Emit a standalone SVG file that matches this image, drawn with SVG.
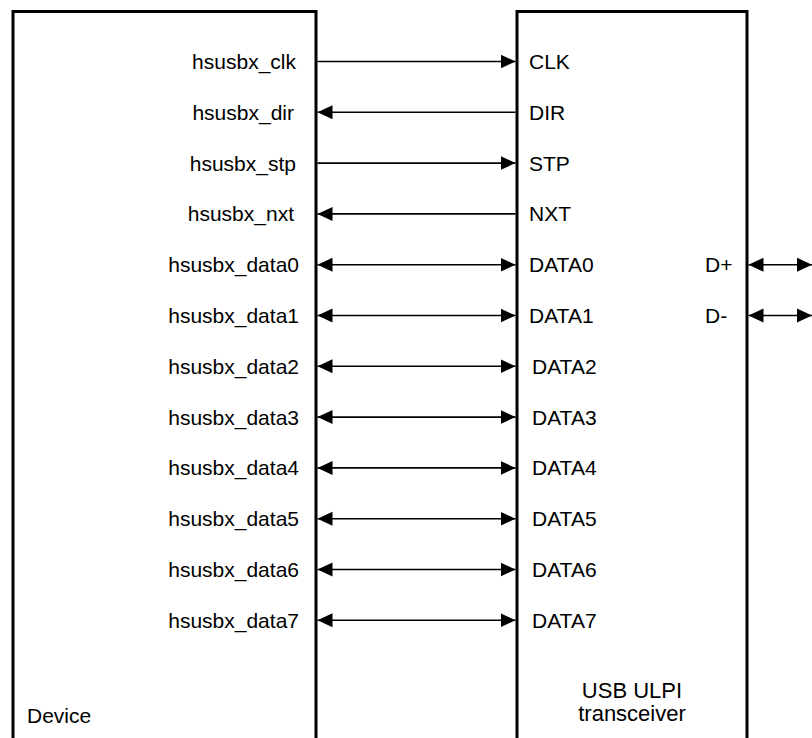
<svg xmlns="http://www.w3.org/2000/svg" width="812" height="738" viewBox="0 0 812 738">
<style>
.box{fill:none;stroke:#000;stroke-width:3}
.w{stroke:#000;stroke-width:1.6;fill:none}
.l{font-family:"Liberation Sans",Arial,sans-serif;font-size:21px;fill:#000;text-anchor:end}
.r{font-family:"Liberation Sans",Arial,sans-serif;font-size:21px;fill:#000}
.c{font-family:"Liberation Sans",Arial,sans-serif;font-size:22px;fill:#000;text-anchor:middle}
</style>
<defs>
<marker id="ah" viewBox="0 0 15 15" refX="15" refY="7.5" markerWidth="15" markerHeight="15" markerUnits="userSpaceOnUse" orient="auto-start-reverse">
<path d="M0,0.5 L15,7.5 L0,14.5 Z" fill="#000"/>
</marker>
</defs>
<rect width="812" height="738" fill="#fff"/>
<g id="device">
<path class="box" d="M13,740 L13,11.5 L316,11.5 L316,740"/>
<text class="r" x="27" y="723">Device</text>
<text class="l" x="296" y="69">hsusbx_clk</text>
<text class="l" x="294" y="119.8">hsusbx_dir</text>
<text class="l" x="296" y="170.6">hsusbx_stp</text>
<text class="l" x="294" y="221.4">hsusbx_nxt</text>
<text class="l" x="299" y="272.2">hsusbx_data0</text>
<text class="l" x="299" y="323">hsusbx_data1</text>
<text class="l" x="299" y="373.8">hsusbx_data2</text>
<text class="l" x="299" y="424.6">hsusbx_data3</text>
<text class="l" x="299" y="475.4">hsusbx_data4</text>
<text class="l" x="299" y="526.2">hsusbx_data5</text>
<text class="l" x="299" y="577">hsusbx_data6</text>
<text class="l" x="299" y="627.8">hsusbx_data7</text>
</g>
<g id="transceiver">
<path class="box" d="M517,740 L517,11.5 L747,11.5 L747,740"/>
<text class="r" x="529" y="69">CLK</text>
<text class="r" x="529" y="119.8">DIR</text>
<text class="r" x="529" y="170.6">STP</text>
<text class="r" x="529" y="221.4">NXT</text>
<text class="r" x="529" y="272.2">DATA0</text>
<text class="r" x="529" y="323">DATA1</text>
<text class="r" x="532" y="373.8">DATA2</text>
<text class="r" x="532" y="424.6">DATA3</text>
<text class="r" x="532" y="475.4">DATA4</text>
<text class="r" x="532" y="526.2">DATA5</text>
<text class="r" x="532" y="577">DATA6</text>
<text class="r" x="532" y="627.8">DATA7</text>
<text class="r" x="705" y="272.2">D+</text>
<text class="r" x="705" y="323">D-</text>
<text class="c" x="632" y="698">USB ULPI</text>
<text class="c" x="632" y="721">transceiver</text>
</g>
<g id="connectors">
<line class="w" x1="317.5" y1="61.5" x2="515.5" y2="61.5" marker-end="url(#ah)"/>
<line class="w" x1="515.5" y1="112.3" x2="317.5" y2="112.3" marker-end="url(#ah)"/>
<line class="w" x1="317.5" y1="163.1" x2="515.5" y2="163.1" marker-end="url(#ah)"/>
<line class="w" x1="515.5" y1="213.9" x2="317.5" y2="213.9" marker-end="url(#ah)"/>
<line class="w" x1="317.5" y1="264.7" x2="515.5" y2="264.7" marker-start="url(#ah)" marker-end="url(#ah)"/>
<line class="w" x1="317.5" y1="315.5" x2="515.5" y2="315.5" marker-start="url(#ah)" marker-end="url(#ah)"/>
<line class="w" x1="317.5" y1="366.3" x2="515.5" y2="366.3" marker-start="url(#ah)" marker-end="url(#ah)"/>
<line class="w" x1="317.5" y1="417.1" x2="515.5" y2="417.1" marker-start="url(#ah)" marker-end="url(#ah)"/>
<line class="w" x1="317.5" y1="467.9" x2="515.5" y2="467.9" marker-start="url(#ah)" marker-end="url(#ah)"/>
<line class="w" x1="317.5" y1="518.7" x2="515.5" y2="518.7" marker-start="url(#ah)" marker-end="url(#ah)"/>
<line class="w" x1="317.5" y1="569.5" x2="515.5" y2="569.5" marker-start="url(#ah)" marker-end="url(#ah)"/>
<line class="w" x1="317.5" y1="620.3" x2="515.5" y2="620.3" marker-start="url(#ah)" marker-end="url(#ah)"/>
<line class="w" x1="748.5" y1="264.7" x2="812" y2="264.7" marker-start="url(#ah)" marker-end="url(#ah)"/>
<line class="w" x1="748.5" y1="315.5" x2="812" y2="315.5" marker-start="url(#ah)" marker-end="url(#ah)"/>
</g>
</svg>
